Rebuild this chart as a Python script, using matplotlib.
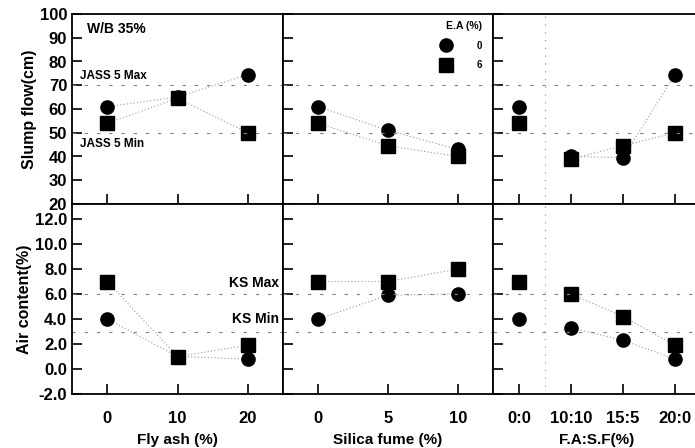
import matplotlib
matplotlib.use("Agg")
import matplotlib.pyplot as plt
from matplotlib.lines import Line2D

plt.rcParams["font.family"] = ["Liberation Sans", "DejaVu Sans"]
plt.rcParams["font.weight"] = "bold"

# x categories for each column of panels
fly_ash = ["0", "10", "20"]
silica_fume = ["0", "5", "10"]
fa_sf = ["0:0", "10:10", "15:5", "20:0"]

# slump flow (cm), E.A 0% (circle) and 6% (square)
slump_fa_ea0 = [61, 65, 74.5]
slump_fa_ea6 = [54, 64.5, 50]
slump_sf_ea0 = [61, 51, 43]
slump_sf_ea6 = [54, 44.5, 40]
slump_mix_ea0 = [61, 40, 39.5, 74.5]
slump_mix_ea6 = [54, 39, 44.5, 50]

# air content (%)
air_fa_ea0 = [4.0, 1.0, 0.8]
air_fa_ea6 = [7.0, 1.0, 1.9]
air_sf_ea0 = [4.0, 5.9, 6.0]
air_sf_ea6 = [7.0, 7.0, 8.0]
air_mix_ea0 = [4.0, 3.3, 2.3, 0.8]
air_mix_ea6 = [7.0, 6.0, 4.2, 1.9]

ea_labels = ["0", "6"]
jass_max, jass_min = 70, 50
ks_max, ks_min = 6.0, 3.0

x_titles = ["Fly ash (%)", "Silica fume (%)", "F.A:S.F(%)"]

W, H = 695, 448
fig = plt.figure(figsize=(W / 100, H / 100), dpi=100)


def px_axes(x0, y_top, w, h):
    return fig.add_axes([x0 / W, (H - y_top - h) / H, w / W, h / H])


cols = [(72, 211), (283, 210), (493, 208)]
top_axes = [px_axes(x0, 14, w, 190) for x0, w in cols]
bot_axes = [px_axes(x0, 204, w, 190) for x0, w in cols]

line_kw = dict(color="0.6", lw=0.8, ls=(0, (1, 2)))
ref_kw = dict(color="0.5", lw=0.8, ls=(0, (3, 8)))
circ_kw = dict(marker="o", ms=9.5, color="black", ls="none")
sq_kw = dict(marker="s", ms=9.5, color="black", ls="none")

groups = [
    (fly_ash, slump_fa_ea0, slump_fa_ea6, air_fa_ea0, air_fa_ea6, 0),
    (silica_fume, slump_sf_ea0, slump_sf_ea6, air_sf_ea0, air_sf_ea6, 0),
    (fa_sf, slump_mix_ea0, slump_mix_ea6, air_mix_ea0, air_mix_ea6, 1),
]

for i, (cats, s0, s6, a0, a6, start) in enumerate(groups):
    xs = list(range(len(cats)))
    at, ab = top_axes[i], bot_axes[i]
    for ax, y0, y6 in [(at, s0, s6), (ab, a0, a6)]:
        ax.plot(xs[start:], y0[start:], **line_kw)
        ax.plot(xs[start:], y6[start:], **line_kw)
        ax.plot(xs, y0, **circ_kw)
        ax.plot(xs, y6, **sq_kw)
        ax.set_xlim(-0.5, len(cats) - 0.5)
        ax.set_xticks(xs)
        ax.tick_params(direction="in", length=7, width=1.2, labelsize=12)
        for sp in ax.spines.values():
            sp.set_linewidth(1.3)
        if start:
            ax.axvline(0.5, color="0.55", lw=0.8, ls=(0, (1, 6)))
    at.axhline(jass_max, **ref_kw)
    at.axhline(jass_min, **ref_kw)
    ab.axhline(ks_max, **ref_kw)
    ab.axhline(ks_min, **ref_kw)
    at.set_ylim(20, 100)
    at.set_yticks(range(20, 101, 10))
    at.set_xticklabels([])
    ab.set_ylim(-2, 13.2)
    ab.set_yticks(range(-2, 13, 2))
    ab.set_xticklabels(cats)
    ab.tick_params(axis="x", pad=12)
    ab.set_xlabel(x_titles[i], fontsize=11, fontweight="bold", labelpad=5)
    if i > 0:
        at.set_yticklabels([])
        ab.set_yticklabels([])
    if i == 2:
        at.spines["right"].set_visible(False)
        ab.spines["right"].set_visible(False)

top_axes[0].set_ylabel("Slump flow(cm)", fontsize=11.5, fontweight="bold", labelpad=2)
bot_axes[0].set_ylabel("Air content(%)", fontsize=11.5, fontweight="bold", labelpad=2)
bot_axes[0].set_yticklabels([f"{v:.1f}" for v in range(-2, 13, 2)])

top_axes[0].text(0.07, 0.9, "W/B 35%", transform=top_axes[0].transAxes, fontsize=10, fontweight="bold")
top_axes[0].text(0.04, jass_max + 2.5, "JASS 5 Max", fontsize=8.5, fontweight="bold",
                 transform=top_axes[0].get_yaxis_transform())
top_axes[0].text(0.04, jass_min - 6, "JASS 5 Min", fontsize=8.5, fontweight="bold",
                 transform=top_axes[0].get_yaxis_transform())
bot_axes[0].text(0.98, ks_max + 0.6, "KS Max", fontsize=10, fontweight="bold", ha="right",
                 transform=bot_axes[0].get_yaxis_transform())
bot_axes[0].text(0.98, ks_min + 0.7, "KS Min", fontsize=10, fontweight="bold", ha="right",
                 transform=bot_axes[0].get_yaxis_transform())

# legend: marker followed by a short dashed stub, as in the original
handles = [
    Line2D([], [], marker="o", ms=9.5, color="black", ls="none"),
    Line2D([], [], marker="s", ms=9.5, color="black", ls="none"),
]
leg = top_axes[1].legend(handles, ea_labels, title="E.A (%)", loc="upper right",
                         bbox_to_anchor=(0.98, 1.0), frameon=False, fontsize=7,
                         title_fontproperties={"size": 7.5, "weight": "bold"},
                         handlelength=1.0, handletextpad=2.6, labelspacing=1.0,
                         borderaxespad=0.3, alignment="right")

fig.savefig("out.png", dpi=100)
